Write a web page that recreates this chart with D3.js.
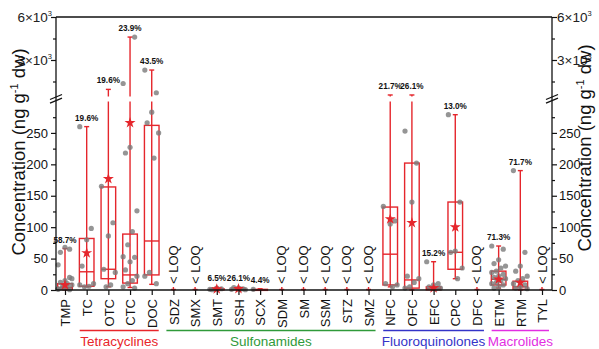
<!DOCTYPE html>
<html>
<head>
<meta charset="utf-8">
<script src="https://cdn.jsdelivr.net/npm/d3@7"></script>
<style>
  body { margin: 0; background: #fff; }
  text { font-family: "Liberation Sans", Arial, sans-serif; }
</style>
</head>
<body>
<div id="chart"></div>
<script>
const WIDTH = 599;
const HEIGHT = 349;

// ---- data ----
const categories = ['TMP', 'TC', 'OTC', 'CTC', 'DOC', 'SDZ', 'SMX', 'SMT', 'SSH', 'SCX', 'SDM', 'SM', 'SSM', 'STZ', 'SMZ', 'NFC', 'OFC', 'EFC', 'CPC', 'DFC', 'ETM', 'RTM', 'TYL'];
// detection frequency; null = all samples < LOQ
const detectRate = ['58.7%', '19.6%', '19.6%', '23.9%', '43.5%', null, null, '6.5%', '26.1%', '4.4%', null, null, null, null, null, '21.7%', '26.1%', '15.2%', '13.0%', null, '71.3%', '71.7%', null];
const whiskerLow = [0, 5, 5, 4, 9, 0, 0, 0, 0, 0, 0, 0, 0, 0, 0, 5, 0, 0, 18, 0, 3, 0, 0];
const q1 = [1, 6, 18, 11, 24, 0, 0, 0.3, 0.3, 0, 0, 0, 0, 0, 0, 8, 3, 0.3, 33, 0, 8, 1, 0];
const median = [4, 29, 33, 24, 78, 0, 0, 1, 1, 0.5, 0, 0, 0, 0, 0, 57, 16, 2, 60, 0, 17, 5, 0];
const q3 = [10, 82, 164, 89, 262, 0, 0, 2, 2, 1, 0, 0, 0, 0, 0, 132, 202, 5, 140, 0, 30, 14, 0];
const whiskerHigh = [66, 260, 950, 4600, 2300, 0, 0, 4, 4, 2, 0, 0, 0, 0, 0, 560, 560, 45, 279, 0, 70, 190, 0];
const means = [8, 59, 177, 266, null, null, null, 1.5, 2, null, null, null, null, null, null, 113, 107, 3, 100, null, 17, 12, null];

const samples = {
  TMP: [40, 20, 15, 12, 8, 5, 3, 2, 65, 68, 60, 18, 10, 6, 1, 0.5],
  TC: [260, 98, 80, 38, 10, 6, 5, 8],
  OTC: [165, 107, 86, 33, 28, 8, 5],
  CTC: [1360, 4600, 227, 218, 126, 93, 72, 53, 52, 45, 32, 22, 15, 10, 5, 3],
  DOC: [2300, 714, 283, 266, 250, 210, 28, 22, 10],
  SMT: [1, 2, 3, 0.5],
  SSH: [1, 2, 3, 4, 0.5, 1.5],
  SCX: [1],
  NFC: [133, 110, 105, 10, 8, 5],
  OFC: [253, 202, 140, 22, 18, 12, 5, 3],
  EFC: [45, 10, 8, 5, 3, 2],
  CPC: [279, 140, 62, 60, 35, 18],
  ETM: [70, 65, 48, 42, 38, 35, 30, 28, 25, 22, 20, 18, 15, 12, 10, 8, 5, 3],
  RTM: [190, 60, 38, 30, 22, 18, 15, 10, 8, 5, 3, 2],
};

const groupNames = ['Tetracyclines', 'Sulfonamides', 'Fluoroquinolones', 'Macrolides'];
const groupFirst = ['TC', 'SDZ', 'NFC', 'ETM'];
const groupLast = ['DOC', 'SMZ', 'DFC', 'TYL'];
const groupColors = ['#e8262b', '#2f9a3a', '#3434c8', '#e22ee2'];

const lowerTicks = [0, 50, 100, 150, 200, 250];
const lowerMinor = [25, 75, 125, 175, 225, 275];
const upperTicks = [3000, 6000];
const upperMinor = [1500, 4500];
const BREAK_VALUE = 300;

// ---- layout ----
const AX_L = 56;
const AX_R = 552;
const Y0 = 290;
const TOP = 17;
const RED = '#e5262c';

const x = d3.scalePoint().domain(categories).range([65, 542]);
const yLower = d3.scaleLinear().domain([0, BREAK_VALUE]).range([Y0, 101.5]);
const yUpper = d3.scaleLinear().domain([0, 6000]).range([103, TOP]);
const yPos = (v) => (v <= BREAK_VALUE ? yLower(v) : yUpper(v));

const svg = d3.select('#chart').append('svg').attr('width', WIDTH).attr('height', HEIGHT);

function addBoxes(g) {
  const half = 7.3;
  const rows = categories.map((c, i) => ({ c, i }));
  const detected = rows.filter((d) => detectRate[d.i] !== null);
  const loq = rows.filter((d) => detectRate[d.i] === null);

  const box = g.append('g').attr('class', 'boxes').attr('stroke', RED).attr('fill', 'none').attr('stroke-width', 1.4);

  // whiskers
  box.selectAll('line.whisker')
    .data(detected)
    .enter()
    .append('line')
    .attr('class', 'whisker')
    .attr('x1', (d) => x(d.c))
    .attr('x2', (d) => x(d.c))
    .attr('y1', (d) => yPos(whiskerLow[d.i]))
    .attr('y2', (d) => yPos(whiskerHigh[d.i]));

  // caps
  ['low', 'high'].forEach((k) => {
    box.selectAll(`line.cap-${k}`)
      .data(detected)
      .enter()
      .append('line')
      .attr('class', `cap-${k}`)
      .attr('x1', (d) => x(d.c) - 2.5)
      .attr('x2', (d) => x(d.c) + 2.5)
      .attr('y1', (d) => yPos(k === 'low' ? whiskerLow[d.i] : whiskerHigh[d.i]))
      .attr('y2', (d) => yPos(k === 'low' ? whiskerLow[d.i] : whiskerHigh[d.i]));
  });

  box.selectAll('rect.box')
    .data(detected)
    .enter()
    .append('rect')
    .attr('class', 'box')
    .attr('x', (d) => x(d.c) - half)
    .attr('width', half * 2)
    .attr('y', (d) => yPos(q3[d.i]))
    .attr('height', (d) => Math.max(1, yPos(q1[d.i]) - yPos(q3[d.i])))
    .attr('fill', 'none');

  box.selectAll('line.median')
    .data(detected)
    .enter()
    .append('line')
    .attr('class', 'median')
    .attr('x1', (d) => x(d.c) - half)
    .attr('x2', (d) => x(d.c) + half)
    .attr('y1', (d) => yPos(median[d.i]))
    .attr('y2', (d) => yPos(median[d.i]));

  // < LOQ compounds: small red mark at zero
  box.selectAll('line.loq')
    .data(loq)
    .enter()
    .append('line')
    .attr('class', 'loq')
    .attr('x1', (d) => x(d.c) - 2.5)
    .attr('x2', (d) => x(d.c) + 2.5)
    .attr('y1', Y0 - 0.5)
    .attr('y2', Y0 - 0.5);
  box.selectAll('line.loqv')
    .data(loq)
    .enter()
    .append('line')
    .attr('class', 'loqv')
    .attr('x1', (d) => x(d.c))
    .attr('x2', (d) => x(d.c))
    .attr('y1', Y0 - 3)
    .attr('y2', Y0 + 1);

  g.append('g').attr('class', 'loq-text')
    .selectAll('text')
    .data(loq)
    .enter()
    .append('text')
    .attr('transform', (d) => `translate(${x(d.c) + 4.5},${Y0 - 6}) rotate(-90)`)
    .attr('font-size', 13)
    .attr('fill', '#111')
    .text('< LOQ');

  // samples
  const pts = [];
  categories.forEach((c) => {
    (samples[c] || []).forEach((v, j) => pts.push({ c, v, j }));
  });
  g.append('g').attr('class', 'samples')
    .selectAll('circle')
    .data(pts)
    .enter()
    .append('circle')
    .attr('cx', (d) => x(d.c) + (((d.j * 5) % 7) - 3) * 2.3)
    .attr('cy', (d) => yPos(d.v))
    .attr('r', 2.6)
    .attr('fill', '#7a7a7a')
    .attr('fill-opacity', 0.8);

  // means
  g.append('g').attr('class', 'means')
    .selectAll('path')
    .data(rows.filter((d) => means[d.i] !== null))
    .enter()
    .append('path')
    .attr('d', d3.symbol().type(d3.symbolStar).size(38))
    .attr('transform', (d) => `translate(${x(d.c)},${yPos(means[d.i])})`)
    .attr('fill', RED);

  // detection frequency labels
  g.append('g').attr('class', 'rates')
    .selectAll('text')
    .data(detected)
    .enter()
    .append('text')
    .attr('x', (d) => x(d.c))
    .attr('y', (d) => yPos(whiskerHigh[d.i]) - 6)
    .attr('text-anchor', 'middle')
    .attr('font-size', 8.2)
    .attr('font-weight', 'bold')
    .attr('fill', '#111')
    .text((d) => detectRate[d.i]);
}

function addAxes(g) {
  // frame lines
  g.append('line').attr('x1', AX_L).attr('x2', AX_R).attr('y1', TOP).attr('y2', TOP)
    .attr('stroke', '#111').attr('stroke-width', 1.6);
  [AX_L, AX_R].forEach((ax) => {
    g.append('line').attr('x1', ax).attr('x2', ax).attr('y1', TOP).attr('y2', Y0)
      .attr('stroke', '#111').attr('stroke-width', 1.3);
  });

  const styleAxis = (s) => {
    s.select('.domain').remove();
    s.selectAll('line').attr('stroke', '#111').attr('stroke-width', 1.2);
    s.selectAll('text').attr('font-size', 13).attr('font-family', '"Liberation Sans", Arial, sans-serif').attr('fill', '#111');
  };

  g.append('g').attr('transform', `translate(${AX_L},0)`)
    .call(d3.axisLeft(yLower).tickValues(lowerTicks).tickSize(5).tickPadding(3)).call(styleAxis);
  g.append('g').attr('transform', `translate(${AX_R},0)`)
    .call(d3.axisRight(yLower).tickValues(lowerTicks).tickSize(5).tickPadding(2)).call(styleAxis);
  [[AX_L, d3.axisLeft], [AX_R, d3.axisRight]].forEach(([ax, fn]) => {
    g.append('g').attr('transform', `translate(${ax},0)`)
      .call(fn(yLower).tickValues(lowerMinor).tickSize(3).tickFormat(''))
      .call(styleAxis);
    g.append('g').attr('transform', `translate(${ax},0)`)
      .call(fn(yUpper).tickValues(upperMinor).tickSize(3).tickFormat(''))
      .call(styleAxis);
    g.append('g').attr('transform', `translate(${ax},0)`)
      .call(fn(yUpper).tickValues(upperTicks).tickSize(5).tickFormat(''))
      .call(styleAxis);
  });

  // scientific labels on the upper segment
  [[AX_L - 4, 'end'], [AX_R + 5, 'start']].forEach(([px, anchor]) => {
    const t = g.append('g').selectAll('text')
      .data(upperTicks)
      .enter()
      .append('text')
      .attr('x', px)
      .attr('y', (d) => yUpper(d) + 4.5)
      .attr('text-anchor', anchor)
      .attr('font-family', '"Liberation Serif", "Times New Roman", serif')
      .attr('font-size', 13.5)
      .attr('fill', '#222');
    t.append('tspan').text((d) => `${d / 1000}×10`);
    t.append('tspan').attr('font-size', 7.5).attr('dy', -6).text('3');
  });

  // x axis
  g.append('line').attr('x1', AX_L).attr('x2', AX_R).attr('y1', Y0).attr('y2', Y0)
    .attr('stroke', '#111').attr('stroke-width', 1.3);
  g.append('g').attr('transform', `translate(0,${Y0})`)
    .call(d3.axisBottom(x).tickSize(5).tickSizeOuter(0))
    .call(styleAxis)
    .call((s) => s.selectAll('text')
      .attr('transform', 'rotate(-90)')
      .attr('text-anchor', 'end')
      .attr('x', -9)
      .attr('y', 0)
      .attr('dy', '0.36em'));
}

function addBreak(g) {
  g.append('rect').attr('x', AX_L - 8).attr('width', AX_R - AX_L + 16)
    .attr('y', 96.5).attr('height', 5).attr('fill', '#fff');
  [AX_L, AX_R].forEach((ax) => {
    [0, 3.6].forEach((off) => {
      g.append('line')
        .attr('x1', ax - 6).attr('y1', 99.5 + off)
        .attr('x2', ax + 6).attr('y2', 94.5 + off)
        .attr('stroke', '#111').attr('stroke-width', 1.3);
    });
  });
}

function addGroups(g) {
  const grp = g.append('g').attr('class', 'groups');
  groupNames.forEach((name, i) => {
    const x1 = x(groupFirst[i]) - 7;
    const x2 = x(groupLast[i]) + 7;
    grp.append('line').attr('x1', x1).attr('x2', x2).attr('y1', 330.5).attr('y2', 330.5)
      .attr('stroke', groupColors[i]).attr('stroke-width', 1.6);
    grp.append('text').attr('x', (x1 + x2) / 2).attr('y', 346)
      .attr('text-anchor', 'middle').attr('font-size', 13.5)
      .attr('fill', groupColors[i]).text(name);
  });
}

function addTitles(g) {
  [[25, 152], [591, 148]].forEach(([tx, ty]) => {
    const t = g.append('text')
      .attr('transform', `translate(${tx},${ty}) rotate(-90)`)
      .attr('text-anchor', 'middle')
      .attr('font-size', 18.5)
      .attr('fill', '#111');
    t.append('tspan').text('Concentration (ng g');
    t.append('tspan').attr('font-size', 11).attr('dy', -7).text('-1');
    t.append('tspan').attr('dy', 7).text(' dw)');
  });
}

const root = svg.append('g');
addBoxes(root);
addBreak(root);
addAxes(root);
addGroups(root);
addTitles(root);
</script>
</body>
</html>
